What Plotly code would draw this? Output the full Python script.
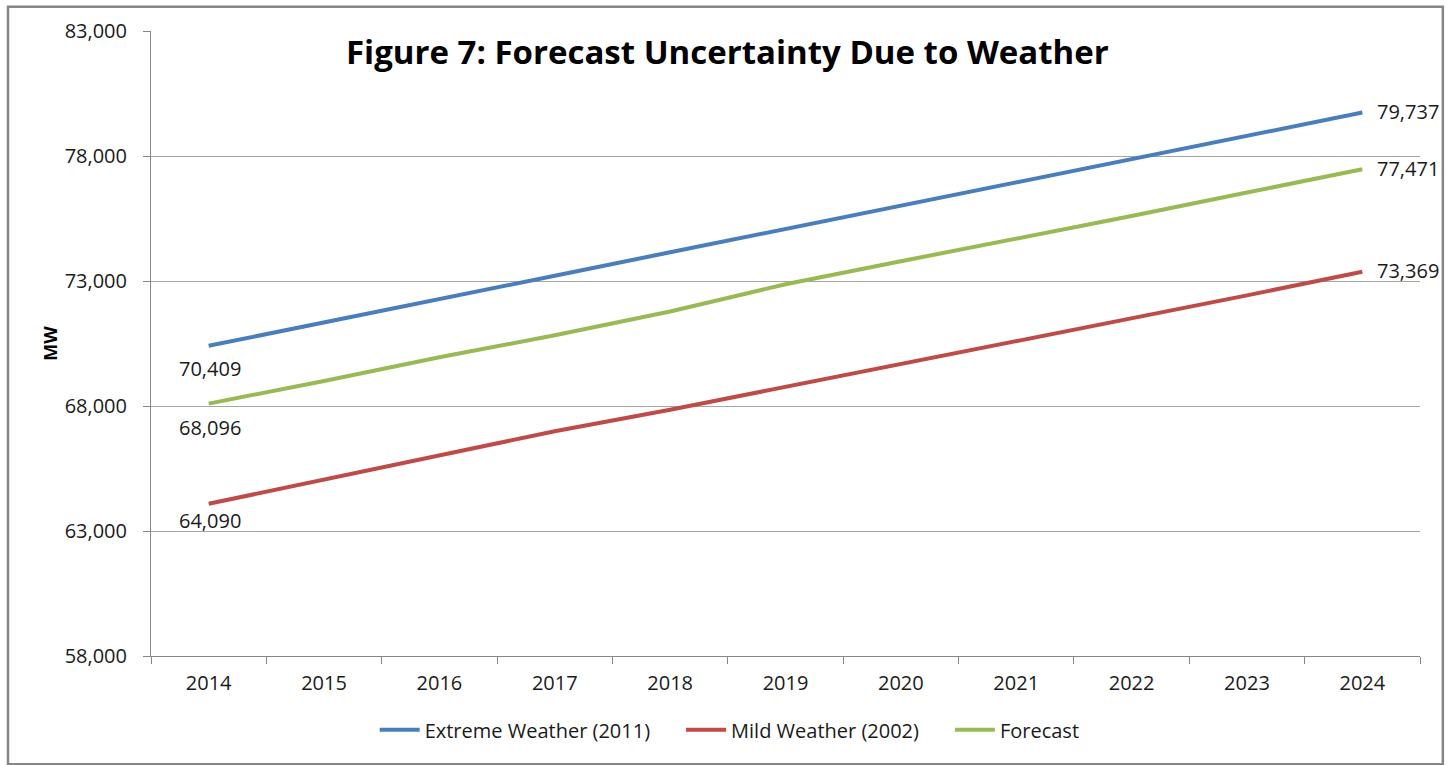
import plotly.graph_objects as go

years = [str(y) for y in range(2014, 2025)]
extreme = [70409, 71330, 72265, 73210, 74150, 75080, 76010, 76930, 77865, 78800, 79737]
mild = [64090, 65050, 66020, 66990, 67850, 68760, 69690, 70570, 71490, 72425, 73369]
forecast = [68096, 69000, 69950, 70830, 71780, 72870, 73790, 74680, 75600, 76540, 77471]

# (name, values, colour, y-shift of first label)
series = [
    ("Extreme Weather (2011)", extreme, "#4a7ebb", -23),
    ("Mild Weather (2002)", mild, "#be4b48", -17),
    ("Forecast", forecast, "#98b954", -24),
]

FONT = "Open Sans"
TXT = "#1a1a1a"
NB = "\u00a0" * 5

fig = go.Figure()
annotations = []
for i, (name, vals, color, ysh) in enumerate(series):
    label = name + (NB if i < len(series) - 1 else "")
    fig.add_trace(go.Scatter(
        x=years, y=vals, name=label, mode="lines",
        line=dict(color=color, width=4),
        hoverinfo="x+y",
    ))
    annotations.append(dict(x=0, y=vals[0], xref="x", yref="y",
                            text=f"{vals[0]:,}", showarrow=False,
                            xanchor="center", yanchor="middle", yshift=ysh, xshift=1,
                            font=dict(family=FONT, size=20, color=TXT)))
    annotations.append(dict(x=len(years) - 1, y=vals[-1], xref="x", yref="y",
                            text=f"{vals[-1]:,}", showarrow=False,
                            xanchor="left", yanchor="middle", xshift=13, yshift=1,
                            font=dict(family=FONT, size=20, color=TXT)))

annotations.append(dict(text="<b>Figure 7: Forecast Uncertainty Due to Weather</b>",
                        xref="paper", yref="paper", x=0.454, y=0.967, showarrow=False,
                        xanchor="center", yanchor="middle",
                        font=dict(family=FONT, size=33, color="#000")))

fig.update_layout(
    width=1450, height=765,
    margin=dict(l=151, r=30, t=31, b=109),
    paper_bgcolor="white", plot_bgcolor="white",
    font=dict(family=FONT, size=20, color=TXT),
    showlegend=True,
    legend=dict(orientation="h", x=0.456, xanchor="center", y=-0.118, yanchor="middle",
                font=dict(family=FONT, size=20, color=TXT), itemwidth=40,
                traceorder="normal"),
    xaxis=dict(type="category", showgrid=False, showline=True, linecolor="#868686", linewidth=1,
               ticks="outside", tickson="boundaries", ticklen=7, tickcolor="#868686",
               ticklabelstandoff=9,
               tickfont=dict(family=FONT, size=20, color=TXT), range=[-0.5, 10.5]),
    yaxis=dict(range=[58000, 83000], tickvals=[58000, 63000, 68000, 73000, 78000, 83000],
               ticktext=["58,000", "63,000", "68,000", "73,000", "78,000", "83,000"],
               showgrid=True, gridcolor="#a6a6a6", gridwidth=1,
               showline=True, linecolor="#868686", linewidth=1,
               ticks="outside", ticklen=7, tickcolor="#868686",
               ticklabelstandoff=12,
               tickfont=dict(family=FONT, size=20, color=TXT),
               title=dict(text="<b>MW</b>", font=dict(family=FONT, size=18, color="#000"), standoff=2),
               zeroline=False),
    annotations=annotations,
    shapes=[dict(type="rect", xref="paper", yref="paper", x0=-0.1127, x1=1.018, y0=-0.173, y1=1.039,
                 line=dict(color="#868686", width=2.5), layer="below")],
)

fig.write_html("out.html")
